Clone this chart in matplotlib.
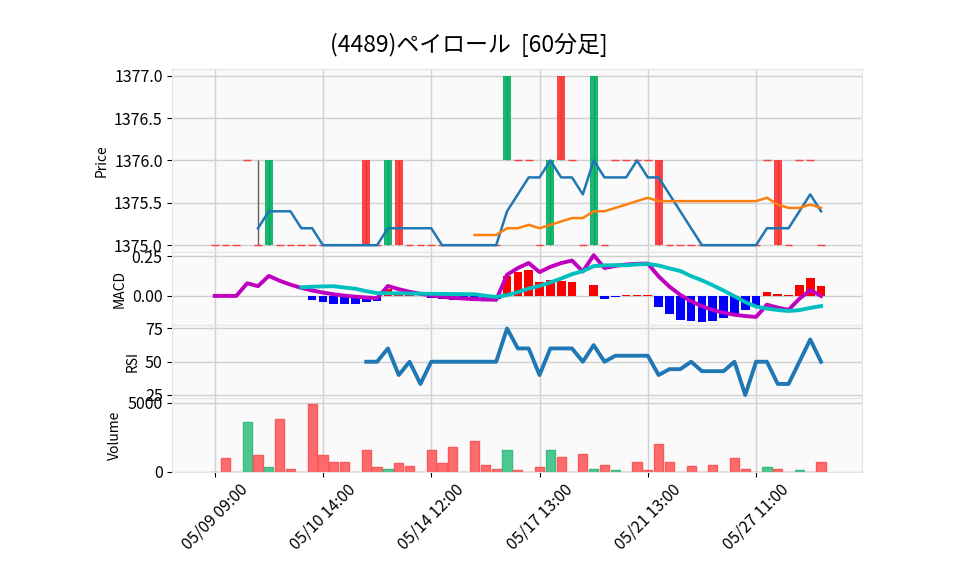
import matplotlib as mpl
mpl.use('Agg')
import matplotlib.pyplot as plt
import numpy as np

plt.rcParams['font.family'] = ['Noto Sans CJK JP', 'DejaVu Sans']

title = '(4489)ペイロール  [60分足]'

# 60-minute bars (index based x axis, gaps skipped)
opens = [1375, 1375, 1375, 1376, 1375, 1375, 1375, 1375, 1375, 1375,
         1375, 1375, 1375, 1375, 1376, 1375, 1375, 1376, 1375, 1375,
         1375, 1375, 1375, 1375, 1375, 1375, 1375, 1376, 1376, 1376,
         1375, 1375, 1377, 1376, 1375, 1375, 1375, 1376, 1376, 1376,
         1376, 1376, 1375, 1375, 1375, 1375, 1375, 1375, 1375, 1375,
         1375, 1376, 1376, 1375, 1376, 1376, 1375]
highs = [1375, 1375, 1375, 1376, 1376, 1376, 1375, 1375, 1375, 1375,
         1375, 1375, 1375, 1375, 1376, 1375, 1376, 1376, 1375, 1375,
         1375, 1375, 1375, 1375, 1375, 1375, 1375, 1377, 1376, 1376,
         1375, 1376, 1377, 1376, 1375, 1377, 1375, 1376, 1376, 1376,
         1376, 1376, 1375, 1375, 1375, 1375, 1375, 1375, 1375, 1375,
         1375, 1376, 1376, 1375, 1376, 1376, 1375]
lows = [1375, 1375, 1375, 1376, 1375, 1375, 1375, 1375, 1375, 1375,
        1375, 1375, 1375, 1375, 1375, 1375, 1375, 1375, 1375, 1375,
        1375, 1375, 1375, 1375, 1375, 1375, 1375, 1376, 1376, 1376,
        1375, 1375, 1376, 1376, 1375, 1375, 1375, 1376, 1376, 1376,
        1376, 1375, 1375, 1375, 1375, 1375, 1375, 1375, 1375, 1375,
        1375, 1376, 1375, 1375, 1376, 1376, 1375]
closes = [1375, 1375, 1375, 1376, 1375, 1376, 1375, 1375, 1375, 1375,
          1375, 1375, 1375, 1375, 1375, 1375, 1376, 1375, 1375, 1375,
          1375, 1375, 1375, 1375, 1375, 1375, 1375, 1377, 1376, 1376,
          1375, 1376, 1376, 1376, 1375, 1377, 1375, 1376, 1376, 1376,
          1376, 1375, 1375, 1375, 1375, 1375, 1375, 1375, 1375, 1375,
          1375, 1376, 1375, 1375, 1376, 1376, 1375]
volumes = [0, 1000, 0, 3600, 1200, 350, 3800, 200, 0, 4900,
           1200, 700, 700, 0, 1600, 350, 200, 600, 400, 0,
           1600, 600, 1750, 0, 2200, 500, 200, 1600, 100, 0,
           300, 1600, 1050, 0, 1300, 200, 500, 100, 0, 700,
           100, 2000, 700, 0, 400, 0, 450, 0, 1000, 200,
           0, 350, 200, 0, 130, 0, 700]

nan = np.nan
ma5 = [nan, nan, nan, nan, 1375.2, 1375.4, 1375.4, 1375.4, 1375.2, 1375.2,
       1375.0, 1375.0, 1375.0, 1375.0, 1375.0, 1375.0, 1375.2, 1375.2, 1375.2, 1375.2,
       1375.2, 1375.0, 1375.0, 1375.0, 1375.0, 1375.0, 1375.0, 1375.4, 1375.6, 1375.8,
       1375.8, 1376.0, 1375.8, 1375.8, 1375.6, 1376.0, 1375.8, 1375.8, 1375.8, 1376.0,
       1375.8, 1375.8, 1375.6, 1375.4, 1375.2, 1375.0, 1375.0, 1375.0, 1375.0, 1375.0,
       1375.0, 1375.2, 1375.2, 1375.2, 1375.4, 1375.6, 1375.4]
ma25 = [nan] * 24 + [1375.12, 1375.12, 1375.12, 1375.20, 1375.20, 1375.24,
                     1375.20, 1375.24, 1375.28, 1375.32, 1375.32, 1375.40,
                     1375.40, 1375.44, 1375.48, 1375.52, 1375.56, 1375.52,
                     1375.52, 1375.52, 1375.52, 1375.52, 1375.52, 1375.52,
                     1375.52, 1375.52, 1375.52, 1375.56, 1375.48, 1375.44,
                     1375.44, 1375.48, 1375.44]

macd = [0.0, 0.0, 0.0, 0.0798, 0.0616, 0.1264, 0.0960, 0.0711, 0.0507, 0.0342,
        0.0209, 0.0102, 0.0017, -0.0050, -0.0101, -0.0141, 0.0628, 0.0425, 0.0261, 0.0130,
        0.0026, -0.0056, -0.0120, -0.0168, -0.0204, -0.0230, -0.0248, 0.1337, 0.1765, 0.2080,
        0.1506, 0.1837, 0.2075, 0.2238, 0.1542, 0.2575, 0.1760, 0.1898, 0.1985, 0.2031,
        0.2044, 0.1232, 0.0583, 0.0067, -0.0337, -0.0651, -0.0889, -0.1065, -0.1191, -0.1276,
        -0.1328, -0.0556, -0.0743, -0.0881, -0.0181, 0.0370, -0.0001]
signal = [nan] * 8 + [0.0540, 0.0578,
          0.0601, 0.0612, 0.0525, 0.0451, 0.0300, 0.0177, 0.0168, 0.0159, 0.0150, 0.0141,
          0.0133, 0.0125, 0.0117, 0.0109, 0.0102, 0.0007, -0.0068, 0.0052, 0.0234, 0.0462,
          0.0635, 0.0853, 0.1102, 0.1373, 0.1570, 0.1884, 0.1931, 0.1946, 0.1935, 0.1993,
          0.2016, 0.1923, 0.1739, 0.1575, 0.1251, 0.0984, 0.0674, 0.0335, -0.0023, -0.0392,
          -0.0676, -0.0803, -0.0893, -0.0953, -0.0901, -0.0761, -0.0643]
hist = [nan] * 8 + [-0.0033, -0.0236,
        -0.0392, -0.0510, -0.0508, -0.0501, -0.0401, -0.0318, 0.0460, 0.0266, 0.0111, -0.0011,
        -0.0107, -0.0181, -0.0237, -0.0277, -0.0306, -0.0237, -0.0180, 0.1285, 0.1531, 0.1618,
        0.0871, 0.0984, 0.0973, 0.0865, -0.0028, 0.0691, -0.0171, -0.0048, 0.0050, 0.0038,
        0.0028, -0.0691, -0.1156, -0.1508, -0.1588, -0.1635, -0.1563, -0.1400, -0.1168, -0.0884,
        -0.0652, 0.0247, 0.0150, 0.0072, 0.0720, 0.1131, 0.0642]
rsi = [nan] * 14 + [50.0, 50.0, 60.0, 40.0, 50.0, 33.3,
       50.0, 50.0, 50.0, 50.0, 50.0, 50.0, 50.0, 75.0, 60.0, 60.0,
       40.0, 60.0, 60.0, 60.0, 50.0, 62.5, 50.0, 54.5, 54.5, 54.5,
       54.5, 40.0, 44.4, 44.4, 50.0, 42.9, 42.9, 42.9, 50.0, 25.0,
       50.0, 50.0, 33.3, 33.3, 50.0, 66.7, 50.0]

tick_pos = [0, 10, 20, 30, 40, 50]
tick_labels = ['05/09 09:00', '05/10 14:00', '05/14 12:00',
               '05/17 13:00', '05/21 13:00', '05/27 11:00']

up_c, down_c = '#00b060', '#fe3032'
vol_up, vol_down = '#4dc790', '#fd6b6c'

x = np.arange(len(closes))
o = np.array(opens, dtype=float)
c = np.array(closes, dtype=float)

fig = plt.figure(figsize=(9.58, 5.75), dpi=100)
left, width = 0.18, 0.72
bottom, top = 0.18, 0.88
u = (top - bottom) / 11.0
ax1 = fig.add_axes([left, top - 5 * u, width, 5 * u])
ax2 = fig.add_axes([left, top - 7 * u, width, 2 * u], sharex=ax1)
ax3 = fig.add_axes([left, top - 9 * u, width, 2 * u], sharex=ax1)
ax4 = fig.add_axes([left, bottom, width, 2 * u], sharex=ax1)

for ax in (ax1, ax2, ax3, ax4):
    ax.set_facecolor('#fafafa')
    ax.grid(True, color='#d0d0d0', linestyle='-', linewidth=1)
    ax.set_axisbelow(True)
    for s in ax.spines.values():
        s.set_color('#e4e4e4')
    ax.tick_params(labelsize=11.5, color='black', length=3.5)

# candles
ax1.vlines(x, lows, highs, color='#606060', linewidth=1, zorder=2)
body_cols = [up_c if cl > op else down_c for op, cl in zip(o, c)]
ax1.bar(x, c - o, bottom=o, width=0.72, color=body_cols, alpha=0.9, zorder=3)
doji = np.where(c == o)[0]
ax1.hlines(c[doji], doji - 0.36, doji + 0.36, color=down_c, linewidth=1, alpha=0.9, zorder=3)
ax1.plot(x, ma5, color='#1f77b4', linewidth=1.8, zorder=4)
ax1.plot(x, ma25, color='#ff7f0e', linewidth=1.8, zorder=4)
ax1.set_ylim(1374.92, 1377.08)
ax1.set_yticks([1375.0, 1375.5, 1376.0, 1376.5, 1377.0])
ax1.set_yticklabels(['%.1f' % v for v in [1375.0, 1375.5, 1376.0, 1376.5, 1377.0]])
ax1.set_ylabel('Price', fontsize=10)

# MACD
h = np.array(hist)
hcols = ['#ff0000' if v >= 0 else '#0000ff' for v in np.nan_to_num(h)]
ax2.bar(x, np.nan_to_num(h), width=0.8, color=hcols, zorder=2)
ax2.plot(x, macd, color='m', linewidth=2.8, zorder=3)
ax2.plot(x, signal, color='c', linewidth=2.8, zorder=3)
ax2.set_ylim(-0.185, 0.278)
ax2.set_yticks([0.0, 0.25])
ax2.set_yticklabels(['0.00', '0.25'])
ax2.set_ylabel('MACD', fontsize=10)

# RSI
ax3.plot(x, rsi, color='#1f77b4', linewidth=2.8)
ax3.set_ylim(22.5, 77.5)
ax3.set_yticks([25, 50, 75])
ax3.set_ylabel('RSI', fontsize=10)

# volume
vcols = [vol_up if c[0] > o[0] else vol_down]
vcols += [vol_up if c[i] > c[i - 1] else vol_down for i in range(1, len(c))]
ecols = ['#3dbb82' if vc == vol_up else '#f85a5b' for vc in vcols]
ax4.bar(x, volumes, width=0.85, color=vcols, edgecolor=ecols, linewidth=1, zorder=2)
ax4.set_ylim(0, 5333)
ax4.set_yticks([0, 5000])
ax4.set_yticklabels(['0', '5000'])
ax4.set_ylabel('Volume', fontsize=10)

ax1.set_xlim(-3.9, 59.8)
ax4.set_xticks(tick_pos)
ax4.set_xticklabels(tick_labels, rotation=45, ha='center', fontsize=11.5)
for ax in (ax1, ax2, ax3):
    ax.tick_params(axis='x', which='both', bottom=False, labelbottom=False)

fig.suptitle(title, x=0.489, y=0.922, va='center', fontsize=16.5)

fig.savefig('out.png', dpi=100)
